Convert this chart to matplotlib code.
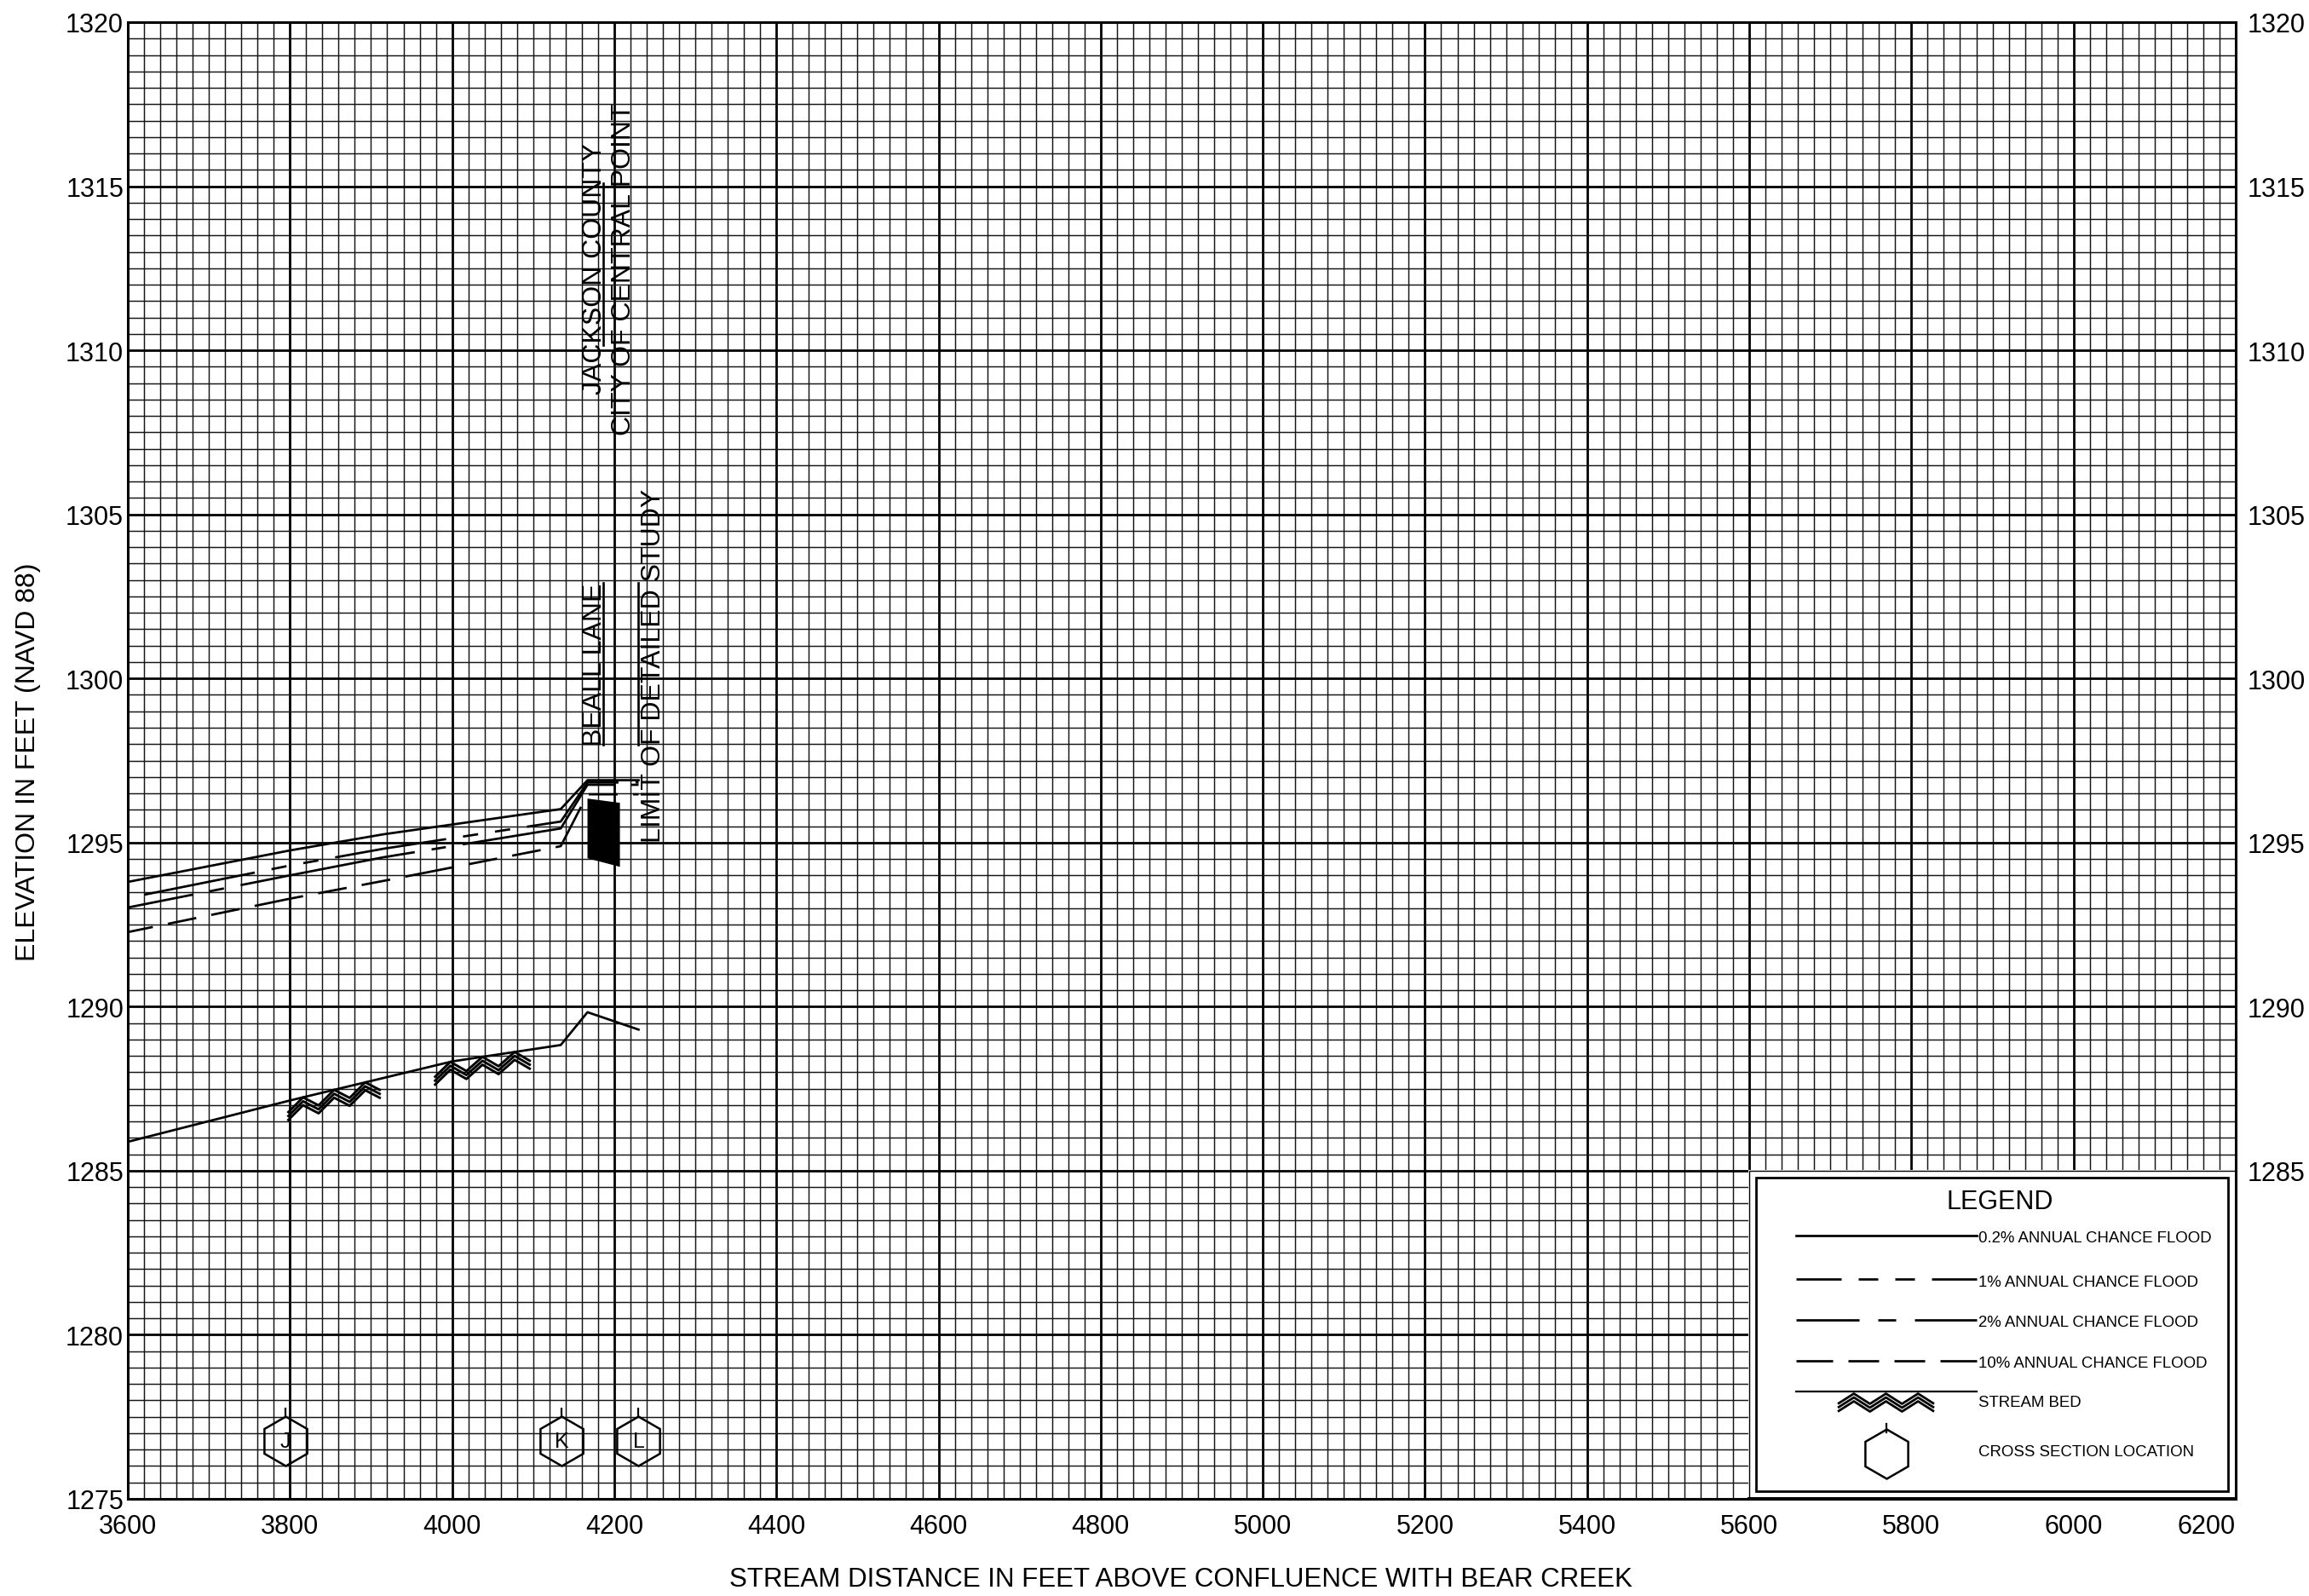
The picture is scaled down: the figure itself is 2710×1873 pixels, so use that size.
import numpy as np
import matplotlib
matplotlib.use('Agg')
import matplotlib.pyplot as plt
from matplotlib.ticker import FixedLocator, MultipleLocator
from matplotlib.patches import Rectangle
import matplotlib.transforms as mtransforms

plt.rcParams['font.family'] = ['Liberation Sans', 'DejaVu Sans']
plt.rcParams['lines.scale_dashes'] = False

# ---------------- data ----------------
dist_profile = [3600, 3800, 3915, 4134, 4167, 4230]
wse_0_2pct = [1293.80, 1294.76, 1295.25, 1296.02, 1296.90, 1296.90]
wse_1pct = [1293.31, 1294.30, 1294.81, 1295.64, 1296.83, 1296.83]
wse_2pct = [1293.02, 1294.00, 1294.55, 1295.43, 1296.76, 1296.76]
wse_10pct = [1292.27, 1293.29, 1293.83, 1294.89, 1296.47, 1296.47]

dist_bed = [3600, 3800, 4000, 4134, 4167, 4230]
elev_bed = [1285.88, 1287.14, 1288.33, 1288.83, 1289.83, 1289.30]
bed_hatch_from = [3797, 3978]
bed_hatch_to = [3912, 4097]

bridge_dist = [4167, 4207, 4207, 4167]
bridge_elev = [1296.34, 1296.21, 1294.26, 1294.52]

xs_letters = ['J', 'K', 'L']
xs_dist = [3794, 4135, 4230]
xs_elev = [1276.77, 1276.77, 1276.77]

annot_text = ['JACKSON COUNTY', 'CITY OF CENTRAL POINT', 'BEALL LANE',
              'LIMIT OF DETAILED STUDY']
annot_dist = [4176, 4211.5, 4176, 4248]
annot_elev = [1312.5, 1312.5, 1300.45, 1300.4]
mark_dist = [4186, 4186, 4229]
mark_low = [1310.16, 1297.98, 1297.98]
mark_high = [1315.09, 1302.91, 1302.91]

x_ticks = list(range(3600, 6201, 200))
y_ticks = list(range(1275, 1321, 5))
y_ticks_right = list(range(1285, 1321, 5))

legend_title = 'LEGEND'
legend_labels = ['0.2% ANNUAL CHANCE FLOOD', '1% ANNUAL CHANCE FLOOD',
                 '2% ANNUAL CHANCE FLOOD', '10% ANNUAL CHANCE FLOOD',
                 'STREAM BED', 'CROSS SECTION LOCATION']

x_label = 'STREAM DISTANCE IN FEET ABOVE CONFLUENCE WITH BEAR CREEK'
y_label = 'ELEVATION IN FEET (NAVD 88)'

# ---------------- styles ----------------
W, H = 2710, 1874
PX = 0.72  # points per pixel at dpi 100
LW = 1.95
INK = 'black'
GRID_MINOR = '#151515'


def px(v):
    return tuple(a * PX for a in v)


style_plot = {
    '0.2': '-',
    '1': (208 * PX, px((132, 20, 18, 20, 18, 20))),
    '2': (130 * PX, px((208, 20, 17, 20))),
    '10': (28 * PX, px((58, 18, 34, 18, 34, 18))),
}
style_leg = {
    '0.2': '-',
    '1': (0, px((53, 20, 23, 20, 23, 20))),
    '2': (0, px((74, 22, 21, 22))),
    '10': (0, px((43, 18, 36, 18, 36, 18))),
}

fig = plt.figure(figsize=(W / 100, H / 100), dpi=100)
ax = fig.add_axes([150 / W, 1 - 1760 / H, 2474 / W, 1733 / H])
ax.set_xlim(3600, 6200)
ax.set_ylim(1275, 1320)

ax.xaxis.set_major_locator(FixedLocator(x_ticks))
ax.xaxis.set_minor_locator(MultipleLocator(20))
ax.yaxis.set_major_locator(FixedLocator(y_ticks))
ax.yaxis.set_minor_locator(MultipleLocator(0.5))
ax.grid(which='minor', color=GRID_MINOR, linewidth=1.05, zorder=0)
ax.grid(which='major', color=INK, linewidth=2.0, zorder=0)
ax.set_axisbelow(True)
ax.tick_params(which='both', length=0)
ax.tick_params(axis='x', pad=12, labelsize=22)
ax.tick_params(axis='y', pad=3.6, labelsize=22)
for s in ax.spines.values():
    s.set_linewidth(2.2)
xlabels = ax.set_xticklabels([str(v) for v in x_ticks])
xlabels[-1].set_horizontalalignment('right')

axr = ax.twinx()
axr.set_ylim(1275, 1320)
axr.set_yticks(y_ticks_right)
axr.tick_params(length=0, pad=10, labelsize=22)
for s in axr.spines.values():
    s.set_visible(False)

# ---------------- profiles ----------------
ax.plot(dist_profile, wse_0_2pct, color=INK, lw=LW, ls=style_plot['0.2'], zorder=3)
ax.plot(dist_profile, wse_1pct, color=INK, lw=LW, ls=style_plot['1'], zorder=3)
ax.plot(dist_profile, wse_2pct, color=INK, lw=LW, ls=style_plot['2'], zorder=3)
ax.plot(dist_profile, wse_10pct, color=INK, lw=LW, ls=style_plot['10'], zorder=3)
ax.plot(dist_bed, elev_bed, color=INK, lw=LW, zorder=3)
ax.fill(bridge_dist, bridge_elev, color=INK, lw=0, zorder=3)


def zigzag(axis, xa, xb, base, width, depth, gap, down, lw):
    n = max(2, int(round((xb - xa) / width)))
    xs = np.linspace(xa, xb, n + 1)
    top = np.array([base(v) for v in xs])
    valley = (np.arange(n + 1) % 2 == 0)
    for k in range(3):
        ys = top + down * (np.where(valley, depth, 0.0) + k * gap)
        axis.plot(xs, ys, color=INK, lw=lw, solid_capstyle='butt', zorder=3)


bed_fn = lambda v: np.interp(v, dist_bed, elev_bed)
for a, b in zip(bed_hatch_from, bed_hatch_to):
    zigzag(ax, a, b, bed_fn, 19.0, 0.36, 0.12, -1, 2.1)

# ---------------- cross sections ----------------
ax.plot(xs_dist, xs_elev, ls='none', marker='h', markersize=58 * PX,
        mfc='none', mec=INK, mew=1.8, zorder=4)
tick_tr = mtransforms.offset_copy(ax.transData, fig=fig, x=0, y=34 * PX, units='points')
ax.plot(xs_dist, xs_elev, ls='none', marker='|', markersize=10 * PX,
        mec=INK, mew=1.6, transform=tick_tr, zorder=4)
for lab, xd, yd in zip(xs_letters, xs_dist, xs_elev):
    ax.text(xd, yd, lab, ha='center', va='center', fontsize=18, zorder=5)

# ---------------- annotations ----------------
for t, xd, yd in zip(annot_text, annot_dist, annot_elev):
    ax.text(xd, yd, t, rotation=90, ha='center', va='center',
            fontsize=23, zorder=5)
for xd, lo, hi in zip(mark_dist, mark_low, mark_high):
    ax.plot([xd, xd], [lo, hi], color=INK, lw=1.9, zorder=4)

# ---------------- axis titles ----------------
fig.text(33 / W, 1 - 894 / H, y_label, rotation=90, ha='center', va='center', fontsize=23)
fig.text(1386 / W, 1 - 1854 / H, x_label, ha='center', va='center', fontsize=22.5)

# ---------------- legend box ----------------
lax = fig.add_axes([2052 / W, 1 - 1760 / H, 572 / W, 386 / H], zorder=10)
lax.set_xlim(2052, 2624)
lax.set_ylim(1760, 1374)
lax.set_xticks([])
lax.set_yticks([])
lax.set_facecolor('white')
for s in lax.spines.values():
    s.set_visible(False)
lax.add_patch(Rectangle((2052.5, 1374.5), 571, 385, fill=False, lw=1.0, ec=INK))
lax.plot([2052, 2624, 2624], [1758.5, 1758.5, 1374], color=INK, lw=2.2, clip_on=False)
lax.add_patch(Rectangle((2061, 1383), 554, 368, fill=False, lw=2.0, ec=INK))
lax.text(2347, 1411, legend_title, ha='center', va='center', fontsize=22)

row_y = [1450.7, 1502.3, 1550.0, 1597.7]
keys = ['0.2', '1', '2', '10']
for yy, k, lab in zip(row_y, keys, legend_labels[:4]):
    lax.plot([2108, 2320], [yy, yy], color=INK, lw=LW, ls=style_leg[k])
    lax.text(2322, yy + 3, lab, ha='left', va='center', fontsize=13.4)

lax.plot([2108, 2320], [1634.3, 1634.3], color=INK, lw=1.6)
zigzag(lax, 2157, 2270, lambda v: 1636.5, 19.0, 12.0, 4.5, 1, 2.0)
lax.text(2322, 1646.7, legend_labels[4], ha='left', va='center', fontsize=13.4)

lax.plot([2214], [1706.7], ls='none', marker='h', markersize=58 * PX,
         mfc='none', mec=INK, mew=1.8)
lax.plot([2214, 2214], [1671.5, 1681.5], color=INK, lw=1.6)
lax.text(2322, 1705, legend_labels[5], ha='left', va='center', fontsize=13.4)

fig.savefig('out.png', dpi=100, facecolor='white')
